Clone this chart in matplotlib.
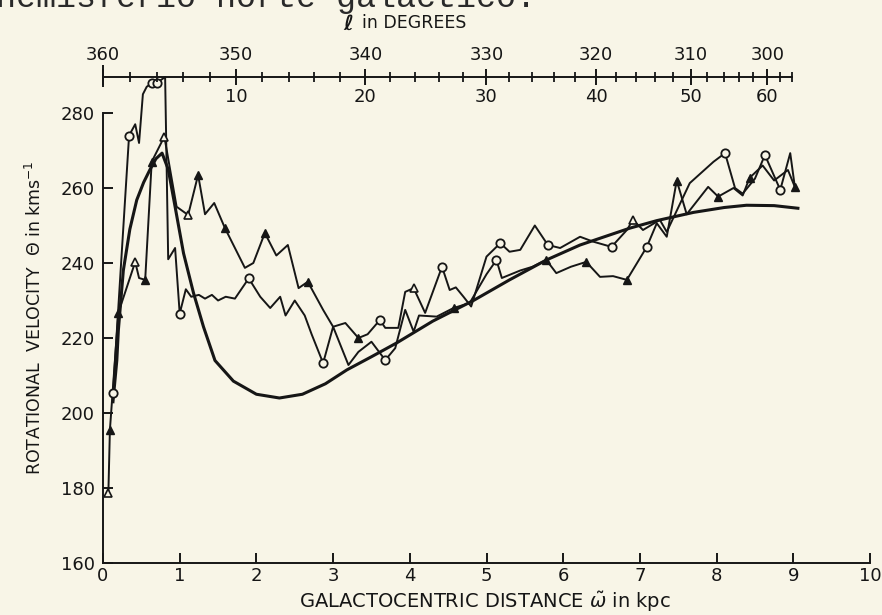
import matplotlib.pyplot as plt
import numpy as np

# galactocentric distance (kpc) vs rotational velocity (km/s)
R0 = 10.0

model_r = [0.13, 0.18, 0.2, 0.265, 0.35, 0.44, 0.53, 0.61, 0.69, 0.77, 0.85, 0.94, 1.05,
           1.18, 1.31, 1.46, 1.7, 2.0, 2.3, 2.6, 2.9, 3.18, 3.5, 3.83, 4.3, 4.83, 5.3,
           5.78, 6.22, 6.87, 7.22, 7.7, 8.1, 8.39, 8.75, 9.06]
model_v = [203, 214, 222, 238, 249, 256.8, 261.5, 264.8, 267.8, 269.3, 265, 255, 242.6,
           232, 223, 214, 208.5, 205, 204, 205, 207.8, 211.5, 215, 218.7, 224.5, 230, 235.5,
           240.8, 244.8, 249.3, 251.3, 253.5, 254.8, 255.4, 255.3, 254.6]

# curve through the open circles
circ_r = [0.13, 0.34, 0.42, 0.47, 0.52, 0.57, 0.64, 0.70, 0.81, 0.85, 0.94, 1.0, 1.08,
          1.15, 1.25, 1.33, 1.42, 1.5, 1.6, 1.72, 1.9, 2.05, 2.18, 2.31, 2.38, 2.5, 2.63,
          2.72, 2.87, 3.0, 3.2, 3.33, 3.5, 3.68, 3.81, 3.94, 4.05, 4.12, 4.35, 4.57, 4.78,
          5.0, 5.13, 5.2, 5.44, 5.6, 5.78, 5.91, 6.1, 6.3, 6.48, 6.65, 6.83, 7.09, 7.22,
          7.35, 7.48, 7.61, 7.89, 8.02, 8.22, 8.34, 8.43, 8.6, 8.75, 8.93, 9.02]
circ_v = [205.3, 274, 277, 272, 285, 287, 288, 288, 289.6, 241, 244, 226.5, 233,
          231, 231.5, 230.5, 231.5, 230, 231, 230.5, 235.9, 231, 228, 231, 226, 230, 226,
          221, 213.3, 223, 212.8, 216.3, 219, 214.1, 217.3, 227.5, 221.7, 226, 225.7, 228, 229.3,
          237, 240.8, 236, 238, 239, 240.8, 237.3, 239, 240.3, 236.3, 236.5, 235.5, 244.3, 250.6,
          247, 262, 253, 260.3, 257.7, 260, 258, 262.7, 266, 262, 264.8, 260.3]

# curve through the triangles
tri_r = [0.07, 0.09, 0.2, 0.42, 0.47, 0.55, 0.635, 0.8, 0.96, 1.11, 1.24, 1.33, 1.45,
         1.59, 1.72, 1.85, 1.96, 2.11, 2.26, 2.41, 2.55, 2.67, 2.87, 3.0, 3.16, 3.33, 3.45,
         3.61, 3.68, 3.85, 3.94, 4.05, 4.2, 4.42, 4.52, 4.6, 4.7, 4.8, 5.0, 5.18, 5.3,
         5.44, 5.63, 5.8, 5.96, 6.22, 6.39, 6.63, 6.83, 6.91, 7.04, 7.26, 7.35, 7.65, 7.96,
         8.11, 8.24, 8.34, 8.5, 8.63, 8.83, 8.96, 9.02]
tri_v = [178.7, 195.5, 226.7, 240.3, 236, 235.5, 267, 273.7, 255, 252.8, 263.5, 253, 256,
         249.3, 244, 238.7, 240, 248, 242, 244.8, 233.3, 235, 227.5, 223, 224, 220, 221,
         224.8, 222.7, 222.7, 232.3, 233.3, 226.7, 239, 232.8, 233.5, 231, 228.4, 241.7, 245.3, 243,
         243.5, 250, 244.8, 244, 247, 245.7, 244.3, 248.8, 251.5, 248.8, 251.5, 248.3, 261.3, 267,
         269.3, 260, 258.5, 262.5, 268.8, 259.5, 269.3, 260.3]

# plotted symbols
open_circ_r = [0.13, 0.34, 0.64, 0.70, 1.0, 1.9, 2.87, 3.61, 3.68, 4.42, 5.13, 5.18, 5.8,
               6.63, 7.09, 8.11, 8.63, 8.83]
open_circ_v = [205.3, 274, 288, 288, 226.5, 235.9, 213.3, 224.8, 214.1, 239, 240.8, 245.3, 244.8,
               244.3, 244.3, 269.3, 268.8, 259.5]
fill_tri_r = [0.09, 0.2, 0.55, 0.635, 1.24, 1.59, 2.11, 2.67, 3.33, 4.57, 5.78, 6.3, 6.83,
              7.48, 8.02, 8.43, 9.02]
fill_tri_v = [195.5, 226.7, 235.5, 267, 263.5, 249.3, 248, 235, 220, 228, 240.8, 240.3, 235.5,
              262, 257.7, 262.7, 260.3]
open_tri_r = [0.07, 0.42, 0.8, 1.11, 4.05, 6.91]
open_tri_v = [178.7, 240.3, 273.7, 252.8, 233.3, 251.5]

# longitude scale along the top
l_major = [360, 350, 340, 330, 320, 310, 300]
l_minor = [358, 356, 354, 352, 348, 346, 344, 342, 338, 336, 334, 332, 328, 326, 324, 322,
           318, 316, 314, 312, 308, 306, 304, 302, 298, 296]
l_lower = [10, 20, 30, 40, 50, 60]


def l_to_r(l):
    return R0 * np.sin(np.radians(360 - np.asarray(l, dtype=float)))


def main():
    bg = '#f8f5e7'
    ink = '#161616'
    plt.rcParams['font.family'] = ['DejaVu Sans']

    fig = plt.figure(figsize=(8.82, 6.15), dpi=100, facecolor=bg)
    ax = fig.add_axes([103 / 882, 52 / 615, 767 / 882, 486 / 615])
    ax.set_facecolor(bg)
    v_top = 289.6
    ax.set_xlim(0, 10)
    ax.set_ylim(160, v_top)
    ppu = 486 / (v_top - 160)  # pixels per km/s

    ax.plot(model_r, model_v, color=ink, lw=2.2, solid_joinstyle='round', clip_on=False)
    ax.plot(circ_r, circ_v, color=ink, lw=1.4, clip_on=False)
    ax.plot(tri_r, tri_v, color=ink, lw=1.4, clip_on=False)
    ax.plot(open_circ_r, open_circ_v, 'o', ms=6, mfc=bg, mec=ink, mew=1.3, clip_on=False)
    ax.plot(fill_tri_r, fill_tri_v, '^', ms=6, mfc=ink, mec=ink, mew=1, clip_on=False)
    ax.plot(open_tri_r, open_tri_v, '^', ms=6, mfc=bg, mec=ink, mew=1.2, clip_on=False)

    for s in ['top', 'right']:
        ax.spines[s].set_visible(False)
    ax.spines['left'].set_bounds(160, 280)
    for s in ['left', 'bottom']:
        ax.spines[s].set_linewidth(1.4)
        ax.spines[s].set_color(ink)

    ax.set_yticks(range(160, 281, 20))
    ax.set_xticks(range(0, 11))
    ax.tick_params(direction='in', length=7, width=1.4, colors=ink, labelsize=13)
    ax.tick_params(axis='y', pad=6)
    ax.tick_params(axis='x', pad=3)

    # top longitude axis
    r_end = l_to_r(296)
    ax.plot([0, r_end], [v_top, v_top], color=ink, lw=1.4, clip_on=False)
    rm = l_to_r(l_major)
    rn = l_to_r(l_minor)
    ax.vlines(rm, v_top - 8 / ppu, v_top + 8 / ppu, color=ink, lw=1.4, clip_on=False)
    ax.vlines(rn, v_top - 5 / ppu, v_top + 5 / ppu, color=ink, lw=1.3, clip_on=False)
    ax.vlines([0], v_top - 10 / ppu, v_top + 12 / ppu, color=ink, lw=1.4, clip_on=False)
    for r, l in zip(rm, l_major):
        ax.text(r, v_top + 22 / ppu, str(l), ha='center', va='center', fontsize=13,
                color=ink, clip_on=False)
    for r, l in zip(l_to_r([360 - d for d in l_lower]), l_lower):
        ax.text(r, v_top - 20 / ppu, str(l), ha='center', va='center', fontsize=13,
                color=ink, clip_on=False)

    fig.text(343 / 882, 1 - 24 / 615, 'ℓ', fontsize=15, fontweight='bold',
             ha='left', va='center', color=ink)
    fig.text(362 / 882, 1 - 23 / 615, 'in DEGREES', fontsize=12.5, ha='left', va='center',
             color=ink)

    fig.text(485 / 882, 1 - 602 / 615, r'GALACTOCENTRIC DISTANCE $\tilde{\omega}$ in kpc',
             fontsize=14, ha='center', va='center', color=ink)
    fig.text(35 / 882, 1 - 318 / 615, r'ROTATIONAL  VELOCITY  $\Theta$ in kms$^{-1}$',
             fontsize=12.5, rotation=90, ha='center', va='center', color=ink)

    # partially cropped line of the page above the figure
    fig.text(-0.004, 1 - 7 / 615, 'hemisferio norte galáctico.', family='Liberation Mono',
             fontsize=24, ha='left', va='baseline', color='#2a2a2a')

    fig.savefig('out.png', dpi=100, facecolor=bg)


if "__main__" == __name__:
    main()
